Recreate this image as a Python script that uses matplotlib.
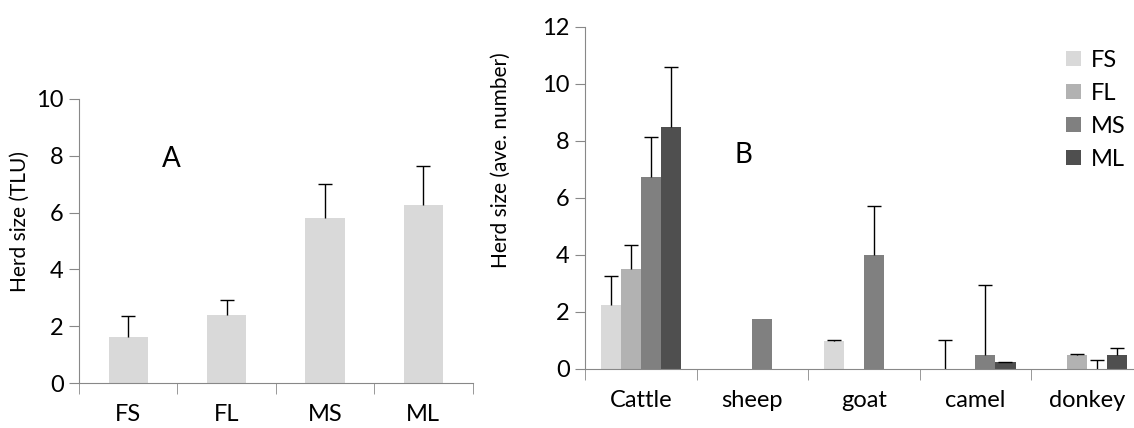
import numpy as np
import matplotlib
matplotlib.use('Agg')
import matplotlib.pyplot as plt

plt.rcParams['font.family'] = ['Lato', 'DejaVu Sans']

# panel A: herd size in TLU
groups = ['FS', 'FL', 'MS', 'ML']
tlu_mean = [1.62, 2.39, 5.81, 6.26]
tlu_err = [0.74, 0.53, 1.19, 1.39]

# panel B: herd size per species (nan = no bar / no error bar)
species = ['Cattle', 'sheep', 'goat', 'camel', 'donkey']
fs_mean = [2.25, np.nan, 0.99, 0.0, np.nan]
fs_err = [1.02, np.nan, 0.03, 1.02, np.nan]
fl_mean = [3.51, np.nan, np.nan, np.nan, 0.50]
fl_err = [0.84, np.nan, np.nan, np.nan, 0.03]
ms_mean = [6.75, 1.74, 4.00, 0.49, 0.0]
ms_err = [1.39, np.nan, 1.73, 2.46, 0.30]
ml_mean = [8.50, np.nan, np.nan, 0.24, 0.50]
ml_err = [2.10, np.nan, np.nan, 0.01, 0.25]

colors = ['#d9d9d9', '#b2b2b2', '#808080', '#4f4f4f']
spine_col = '#888888'
tick_fs = 17

fig = plt.figure(figsize=(11.34, 4.28), dpi=100)


def style_axes(ax, n):
    for s in ['top', 'right']:
        ax.spines[s].set_visible(False)
    for s in ['left', 'bottom']:
        ax.spines[s].set_color(spine_col)
    ax.set_xlim(-0.5, n - 0.5)
    ax.set_xticks(range(n))
    ax.set_xticks(np.arange(-0.5, n, 1.0), minor=True)
    ax.tick_params(axis='x', which='major', length=0, pad=15, labelsize=tick_fs)
    ax.tick_params(axis='x', which='minor', length=8, color=spine_col)
    ax.tick_params(axis='y', length=7, color=spine_col, labelsize=tick_fs, pad=4)


def bars_up_err(ax, xs, m, e, w, c, label=None):
    # bar plus upper-only error bar (no cap at the bar top)
    m = np.array(m, dtype=float)
    e = np.array(e, dtype=float)
    ax.bar(xs, m, width=w, color=c, label=label)
    ax.errorbar(xs, m, yerr=[np.zeros(len(e)), e], fmt='none',
                ecolor='black', elinewidth=1, capsize=0)
    ax.plot(xs, m + e, linestyle='none', marker='_', markersize=10,
            markeredgewidth=1, color='black')


# --- panel A ---
axA = fig.add_axes([0.0697, 0.105, 0.347, 0.664])
x = np.arange(len(groups))
bars_up_err(axA, x, tlu_mean, tlu_err, 0.4, colors[0])
style_axes(axA, len(groups))
axA.set_xticklabels(groups)
axA.set_ylim(0, 10)
axA.set_yticks(range(0, 11, 2))
axA.set_ylabel('Herd size (TLU)', fontsize=15)
axA.yaxis.set_label_coords(-0.125, 0.57)
axA.text(0.44, 7.9, 'A', fontsize=20, ha='center', va='center')

# --- panel B ---
axB = fig.add_axes([0.516, 0.138, 0.4916, 0.799])
x = np.arange(len(species))
w = 0.18
series = [(fs_mean, fs_err), (fl_mean, fl_err), (ms_mean, ms_err), (ml_mean, ml_err)]
for i, (m, e) in enumerate(series):
    bars_up_err(axB, x + (i - 1.5) * w, m, e, w, colors[i], label=groups[i])
style_axes(axB, len(species))
axB.set_xticklabels(species)
axB.set_ylim(0, 12)
axB.set_yticks(range(0, 13, 2))
axB.set_ylabel('Herd size (ave. number)', fontsize=15)
axB.yaxis.set_label_coords(-0.133, 0.61)
axB.text(0.92, 7.5, 'B', fontsize=20, ha='center', va='center')

h, l = axB.get_legend_handles_labels()
fig.legend(h, l, loc='upper left', bbox_to_anchor=(0.932, 0.905), frameon=False,
           fontsize=17, handlelength=0.62, handleheight=0.62,
           handletextpad=0.4, labelspacing=0.5, borderaxespad=0)

fig.savefig('out.png', dpi=100)
